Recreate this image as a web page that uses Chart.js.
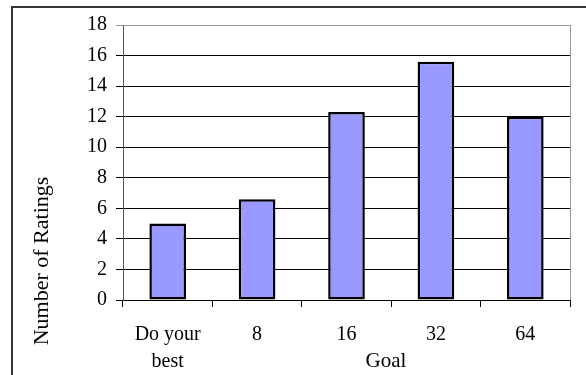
<!DOCTYPE html>
<html>
<head>
<meta charset="utf-8">
<script src="https://cdn.jsdelivr.net/npm/chart.js@4/dist/chart.umd.min.js"></script>
<style>
  html, body { margin: 0; padding: 0; background: #fff; }
  #wrap { position: relative; width: 586px; height: 375px; }
</style>
</head>
<body>
<div id="wrap"><canvas id="chart-canvas" width="586" height="375"></canvas></div>
<script>
const categories = [["Do your", "best"], "8", "16", "32", "64"];
const ratings = [5.0, 6.6, 12.3, 15.6, 12.0];
const yTicks = [0, 2, 4, 6, 8, 10, 12, 14, 16, 18];

const FONT = "'Liberation Serif', 'Times New Roman', serif";

// frame lines + axis titles placed like the original sheet
const decor = {
  id: "decor",
  beforeDraw(chart) {
    const ctx = chart.ctx;
    ctx.save();
    ctx.fillStyle = "#fff";
    ctx.fillRect(0, 0, chart.width, chart.height);
    ctx.strokeStyle = "#333";
    ctx.lineWidth = 2;
    ctx.beginPath();
    ctx.moveTo(12, 375);
    ctx.lineTo(12, 7);
    ctx.lineTo(586, 7);
    ctx.stroke();
    const a = chart.chartArea;
    ctx.strokeStyle = "#999";
    ctx.lineWidth = 1;
    ctx.strokeRect(Math.round(a.left) + 0.5, Math.round(a.top) + 0.5, Math.round(a.right - a.left), Math.round(a.bottom - a.top));
    ctx.restore();
  },
  afterDraw(chart) {
    const ctx = chart.ctx;
    ctx.save();
    ctx.fillStyle = "#000";
    ctx.font = "21px " + FONT;
    ctx.textAlign = "center";
    ctx.textBaseline = "middle";
    ctx.fillText("Goal", 386, 361);
    ctx.font = "22px " + FONT;
    ctx.translate(42, 261);
    ctx.rotate(-Math.PI / 2);
    ctx.fillText("Number of Ratings", 0, 0);
    ctx.restore();
  }
};

const data = {
  labels: categories,
  datasets: [
    {
      label: "Number of Ratings",
      data: ratings,
      backgroundColor: "#9999FF",
      borderColor: "#000",
      borderWidth: 2.5,
      borderSkipped: false,
      barPercentage: 0.41,
      categoryPercentage: 1,
    },
  ],
};

const config = {
  type: "bar",
  data: data,
  plugins: [decor],
  options: {
    responsive: false,
    animation: false,
    devicePixelRatio: 1,
    layout: { padding: { left: 0, top: 25, right: 16, bottom: 0 } },
    plugins: {
      legend: { display: false },
      tooltip: { enabled: false },
    },
    scales: {
      x: {
        offset: true,
        grid: {
          offset: true,
          drawOnChartArea: false,
          drawTicks: true,
          tickLength: 7,
          color: "#000",
        },
        border: { color: "#000", width: 1 },
        ticks: {
          color: "#000",
          font: { family: FONT, size: 20, lineHeight: 1.35 },
          padding: 14,
          maxRotation: 0,
          autoSkip: false,
        },
        afterFit(scale) { scale.height = 75; },
      },
      y: {
        min: 0,
        max: 18,
        afterBuildTicks(scale) { scale.ticks = yTicks.map(v => ({ value: v })); },
        grid: {
          color: ctx => (ctx.tick && ctx.tick.value === 18 ? "#999" : "#000"),
          tickLength: 7,
          drawTicks: true,
        },
        border: { color: "#555", width: 1 },
        ticks: {
          color: "#000",
          font: { family: FONT, size: 20 },
          padding: 9,
        },
        afterFit(scale) { scale.width = 123; },
      },
    },
  },
};

const myChart = new Chart(document.getElementById("chart-canvas"), config);
</script>
</body>
</html>
